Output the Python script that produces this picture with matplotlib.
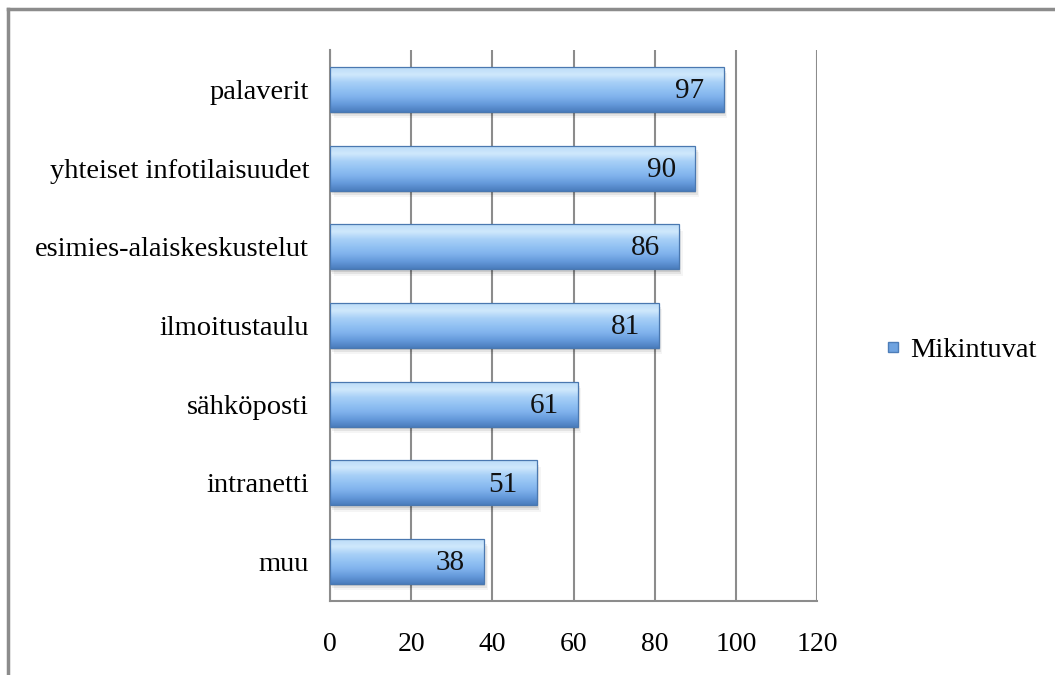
import matplotlib

matplotlib.use("Agg")
import matplotlib.pyplot as plt  # noqa: E402
import numpy as np  # noqa: E402
from matplotlib.colors import LinearSegmentedColormap  # noqa: E402
from matplotlib.lines import Line2D  # noqa: E402
from matplotlib.patches import Rectangle  # noqa: E402

categories = [
    "palaverit",
    "yhteiset infotilaisuudet",
    "esimies-alaiskeskustelut",
    "ilmoitustaulu",
    "sähköposti",
    "intranetti",
    "muu",
]
values = [97, 90, 86, 81, 61, 51, 38]
series_name = "Mikintuvat"
xticks = [0, 20, 40, 60, 80, 100, 120]

plt.rcParams["font.family"] = ["Liberation Serif", "DejaVu Serif"]

fig = plt.figure(figsize=(10.55, 6.75), dpi=100)
ax = fig.add_axes([330 / 1055, 1 - 601 / 675, 487 / 1055, 551 / 675])

# vertical gradient for the "cylinder" bars (bottom -> top)
grad = LinearSegmentedColormap.from_list(
    "bar", ["#4a7cbc", "#6499da", "#80b2ec", "#92c2f3", "#a8d0f7", "#cfe8fc", "#bcdcf8"]
)
gradient = np.linspace(0, 1, 128).reshape(-1, 1)

n = len(categories)
ypos = np.arange(n)[::-1]
h = 0.57

for y, v in zip(ypos, values):
    # soft shadow
    for k, a in enumerate([0.10, 0.07, 0.04]):
        ax.add_patch(Rectangle((0.3 + 0.3 * k, y - h / 2 - 0.03 - 0.025 * k), v, h,
                               color="#000000", alpha=a, lw=0, zorder=2))
    ax.imshow(gradient, aspect="auto", cmap=grad, origin="lower",
              extent=(0, v, y - h / 2, y + h / 2), zorder=3, interpolation="bilinear")
    ax.add_patch(Rectangle((0, y - h / 2), v, h, fill=False,
                           ec="#4a78b0", lw=0.9, zorder=4))
    ax.text(v - 4.7, y - 0.02, str(v), ha="right", va="center", fontsize=21,
            color="#111111", zorder=5)

ax.set_xlim(0, 120)
ax.set_ylim(-0.5, n - 0.5)
ax.set_xticks(xticks)
ax.set_xticklabels([str(t) for t in xticks], fontsize=20)
ax.set_yticks(ypos)
ax.set_yticklabels(categories, fontsize=20.5)
ax.tick_params(axis="x", length=0, pad=22)
ax.tick_params(axis="y", length=0, pad=15)
ax.grid(axis="x", color="#8c8c8c", lw=1.5, zorder=1)
ax.set_axisbelow(True)
for s in ["top", "right"]:
    ax.spines[s].set_visible(False)
for s in ["left", "bottom"]:
    ax.spines[s].set_color("#8c8c8c")
    ax.spines[s].set_linewidth(1.5)

# legend
handle = Line2D([], [], marker="s", ls="none", markersize=7,
                markerfacecolor="#6fa3e0", markeredgecolor="#4d7db8")
fig.legend([handle], [series_name], loc="center left",
           bbox_to_anchor=(870 / 1055, 1 - 350 / 675), frameon=False,
           fontsize=20.5, handletextpad=0.3, borderpad=0, handlelength=0.6)

# outer frame (top and left edges)
fig.add_artist(Line2D([8 / 1055, 1.0], [1 - 9 / 675, 1 - 9 / 675],
                      color="#8c8c8c", lw=2.5, transform=fig.transFigure))
fig.add_artist(Line2D([8 / 1055, 8 / 1055], [1 - 9 / 675, 0.0],
                      color="#8c8c8c", lw=2.5, transform=fig.transFigure))

fig.savefig("out.png", dpi=100)
